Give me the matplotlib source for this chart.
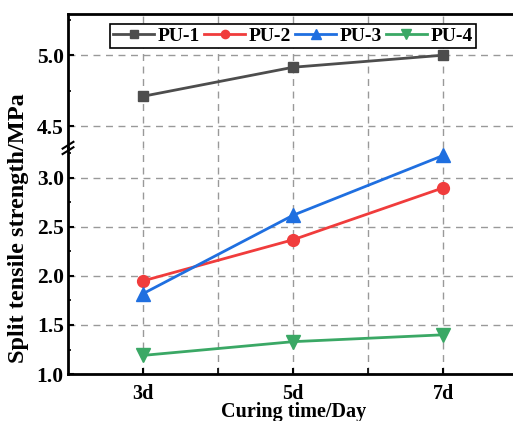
import numpy as np
import matplotlib.pyplot as plt
from matplotlib.ticker import MultipleLocator

plt.rcParams["font.family"] = "Liberation Serif"
plt.rcParams["font.weight"] = "bold"

days = [3, 5, 7]
day_labels = ["3d", "5d", "7d"]
pu1 = [4.71, 4.915, 5.0]
pu2 = [1.95, 2.37, 2.90]
pu3 = [1.82, 2.62, 3.23]
pu4 = [1.19, 1.33, 1.40]

series = [
    ("PU-1", pu1, "#4d4d4d", "s", 7.5),
    ("PU-2", pu2, "#f03c3c", "o", 8.5),
    ("PU-3", pu3, "#1f6fe0", "^", 9.5),
    ("PU-4", pu4, "#3aa865", "v", 9.5),
]

fig = plt.figure(figsize=(5.13, 4.21), dpi=100)
ax_top = fig.add_axes([0.1326, 0.6485, 0.878, 0.318])
ax_bot = fig.add_axes([0.1326, 0.1116, 0.878, 0.537])

for ax in (ax_top, ax_bot):
    for name, vals, c, m, ms in series:
        ax.plot(days, vals, color=c, marker=m, markersize=ms, lw=2.0, label=name)
    ax.set_xlim(2, 8)
    ax.set_xticks(days)
    ax.set_xticks([4, 6], minor=True)
    ax.yaxis.set_major_locator(MultipleLocator(0.5))
    ax.yaxis.set_minor_locator(MultipleLocator(0.25))
    ax.grid(True, which="major", ls=(0, (5, 4)), color="#999999", lw=1)
    ax.grid(True, which="minor", axis="x", ls=(0, (5, 4)), color="#999999", lw=1)
    ax.tick_params(direction="in", width=1.5, length=4, labelsize=15.5)
    ax.tick_params(which="minor", direction="in", width=1.2, length=2.5)
    ax.tick_params(axis="x", which="minor", length=4)
    for s in ax.spines.values():
        s.set_linewidth(2)
    ax.set_axisbelow(True)

ax_top.set_ylim(4.345, 5.29)
ax_bot.set_ylim(1.0, 3.306)

ax_top.spines["bottom"].set_visible(False)
ax_bot.spines["top"].set_visible(False)
ax_top.tick_params(axis="x", which="both", bottom=False, labelbottom=False)
ax_bot.set_xticklabels(day_labels)
ax_bot.tick_params(axis="x", pad=7, labelsize=14.5)
ax_bot.tick_params(axis="y", pad=3)
ax_top.tick_params(axis="y", pad=3)

# break marks on the left spine
for dy in (-0.012, 0.012):
    ax_bot.plot([-0.012, 0.012], [1 + dy - 0.015, 1 + dy + 0.015],
                transform=ax_bot.transAxes, color="k", lw=1.5, clip_on=False)

leg = ax_top.legend(loc="upper left", bbox_to_anchor=(0.094, 0.925), ncol=4,
                    fontsize=14, frameon=True, fancybox=False, edgecolor="k",
                    framealpha=1, handlelength=2.1, columnspacing=0.2,
                    handletextpad=0.2, borderpad=0.15, borderaxespad=0,
                    markerscale=0.7)
leg.get_frame().set_linewidth(1.2)

ax_bot.set_xlabel("Curing time/Day", fontsize=14.5, fontweight="bold", labelpad=-1)
fig.text(0.036, 0.458, "Split tensile strength/MPa", rotation=90,
         fontsize=17.5, fontweight="bold", ha="center", va="center")

fig.savefig("out.png", dpi=100)
